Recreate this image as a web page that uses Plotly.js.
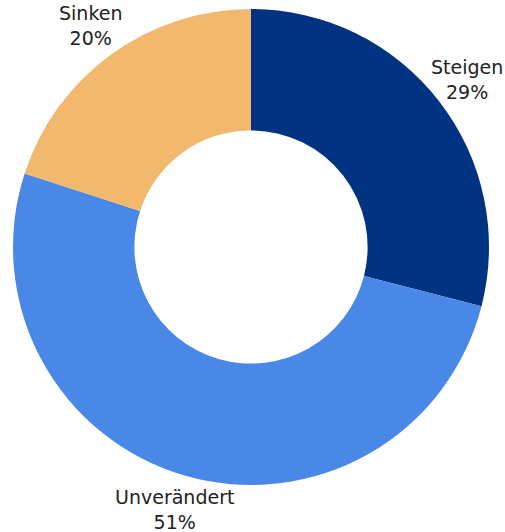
<!DOCTYPE html>
<html>
<head>
<meta charset="utf-8">
<script src="https://cdn.plot.ly/plotly-3.0.1.min.js"></script>
<style>
  html, body { margin: 0; padding: 0; background: #fff; }
  #box { width: 505px; height: 532px; }
</style>
</head>
<body>
<div id="box"></div>
<script>
'use strict'

var labels = ["Steigen", "Unverändert", "Sinken"];
var shares = [29, 51, 20];
var colors = ["#003282", "#4a88e8", "#f2b96e"];

var textFont = {family: "'DejaVu Sans', sans-serif", size: 19, color: "#222222"};

var donut = {
    type: "pie",
    labels: labels,
    values: shares,
    hole: 0.49,
    sort: false,
    direction: "clockwise",
    rotation: 0,
    textinfo: "none",
    marker: {colors: colors, line: {width: 0}},
    showlegend: false,
    hoverinfo: "none"
};

// labels sit just outside the ring, on each slice's middle angle
var total = shares.reduce(function(a, b){ return a + b; }, 0);
var annotations = [];
var cum = 0;
var labelRadius = 0.575; // in paper units, pie radius is 0.5
for(var i = 0; i < shares.length; i++){
    var mid = (cum + shares[i] / 2) / total * 2 * Math.PI;
    cum += shares[i];
    annotations.push({
        xref: "paper",
        yref: "paper",
        x: 0.5 + labelRadius * Math.sin(mid),
        y: 0.5 + labelRadius * Math.cos(mid),
        xanchor: "center",
        yanchor: "middle",
        align: "center",
        showarrow: false,
        text: labels[i] + "<br>" + Math.round(shares[i] / total * 100) + "%",
        font: textFont
    });
}

var layout = {
    width: 505,
    height: 532,
    margin: {l: 13, r: 16, t: 9, b: 47},
    paper_bgcolor: "#ffffff",
    plot_bgcolor: "#ffffff",
    font: textFont,
    annotations: annotations
};

Plotly.newPlot('box', [donut], layout, {displayModeBar: false, staticPlot: true});
</script>
</body>
</html>
